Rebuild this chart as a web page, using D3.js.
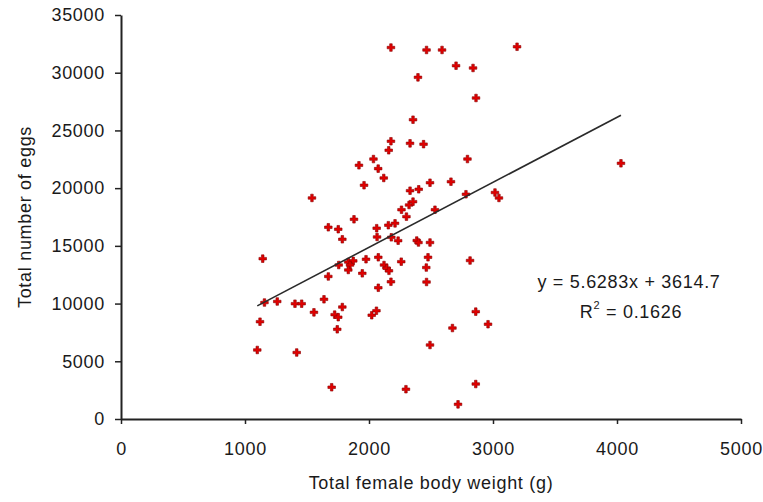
<!DOCTYPE html>
<html>
<head>
<meta charset="utf-8">
<script src="https://cdn.jsdelivr.net/npm/d3@7"></script>
<style>
  html, body { margin: 0; padding: 0; background: #fff; }
  svg text { font-family: Arial, "Liberation Sans", sans-serif; fill: #1a1a1a; }
</style>
</head>
<body>
<svg id="chart" width="763" height="502"></svg>
<script>
// ---- Data ----
const bodyWeight = [
  2177, 2464, 2589, 2702, 2839, 2395, 2863, 2355, 2177, 2159,
  2331, 2440, 2794, 1919, 2036, 2074, 2119, 1960, 1540, 2492,
  2661, 2331, 2401, 2782, 3016, 3048, 2262, 2323, 2355, 2302,
  2532, 1879, 1672, 1752, 1785, 2062, 2156, 2210, 2065, 2180,
  2235, 2385, 2399, 2492, 3194, 4032, 1143, 1756, 1833, 1873,
  1847, 1833, 1976, 2075, 2121, 2143, 2161, 2260, 2476, 2462,
  1946, 1672, 2177, 2464, 2075, 2815, 1157, 1260, 1403, 1457,
  1637, 1556, 1785, 1723, 1752, 1744, 1121, 2022, 2060, 1099,
  1417, 2861, 2673, 2960, 2492, 1699, 2298, 2861, 2718
];
const eggs = [
  32180, 31970, 31970, 30610, 30410, 29600, 27810, 25930, 24060, 23280,
  23880, 23810, 22520, 21980, 22520, 21690, 20880, 20250, 19150, 20470,
  20560, 19780, 19900, 19470, 19620, 19150, 18130, 18540, 18830, 17530,
  18130, 17300, 16610, 16440, 15570, 16530, 16790, 16950, 15770, 15740,
  15450, 15460, 15290, 15290, 32250, 22150, 13890, 13340, 13600, 13700,
  13340, 12910, 13840, 14010, 13340, 13060, 12840, 13630, 14010, 13120,
  12620, 12350, 11890, 11870, 11370, 13730, 10090, 10180, 9990, 9990,
  10370, 9240, 9700, 9040, 8820, 7770, 8430, 8990, 9380, 5980,
  5760, 9300, 7880, 8210, 6410, 2750, 2580, 3030, 1270
];
const xTicks = [0, 1000, 2000, 3000, 4000, 5000];
const yTicks = [0, 5000, 10000, 15000, 20000, 25000, 30000, 35000];
const slope = 5.6283;
const intercept = 3614.7;
const equationText = "y = 5.6283x + 3614.7";
const r2Value = "0.1626";
const xTitle = "Total female body weight (g)";
const yTitle = "Total number of eggs";

(function draw() {
  const svg = d3.select("#chart");
  const mLeft = 121, mRight = 741, mTop = 15, mBottom = 419;
  const x = d3.scaleLinear().domain([0, 5000]).range([mLeft, mRight]);
  const y = d3.scaleLinear().domain([0, 35000]).range([mBottom, mTop]);
  const fontSize = 18, ls = "0.7px";

  svg.append("rect").attr("width", 763).attr("height", 502).attr("fill", "#fff");

  const xAxis = svg.append("g")
    .attr("transform", `translate(0,${mBottom})`)
    .call(d3.axisBottom(x).tickValues(xTicks).tickFormat(d3.format("d")).tickSize(5).tickPadding(18).tickSizeOuter(0));
  const yAxis = svg.append("g")
    .attr("transform", `translate(${mLeft},0)`)
    .call(d3.axisLeft(y).tickValues(yTicks).tickFormat(d3.format("d")).tickSize(6).tickPadding(10).tickSizeOuter(0));

  [xAxis, yAxis].forEach(g => {
    g.select(".domain").attr("stroke", "#222").attr("stroke-width", 2);
    g.selectAll(".tick line").attr("stroke", "#222").attr("stroke-width", 1.5);
    g.selectAll(".tick text")
      .attr("font-size", fontSize)
      .attr("letter-spacing", ls)
      .attr("font-family", "Arial, 'Liberation Sans', sans-serif")
      .attr("fill", "#1a1a1a");
  });

  const pts = bodyWeight.map((w, i) => ({ w, e: eggs[i] }));
  const sym = d3.symbol().type(d3.symbolCross).size(32);
  svg.append("g").selectAll("path")
    .data(pts)
    .join("path")
    .attr("d", sym)
    .attr("transform", d => `translate(${x(d.w)},${y(d.e)})`)
    .attr("fill", "#e00000")
    .attr("stroke", "#8a0000")
    .attr("stroke-width", 0.6);

  const xMin = d3.min(bodyWeight), xMax = d3.max(bodyWeight);
  svg.append("line")
    .attr("x1", x(xMin)).attr("y1", y(slope * xMin + intercept))
    .attr("x2", x(xMax)).attr("y2", y(slope * xMax + intercept))
    .attr("stroke", "#2a2a2a")
    .attr("stroke-width", 1.6);

  svg.append("text")
    .attr("x", 629).attr("y", 288)
    .attr("text-anchor", "middle")
    .attr("font-size", fontSize).attr("letter-spacing", ls)
    .text(equationText);
  const r2 = svg.append("text")
    .attr("x", 631).attr("y", 318)
    .attr("text-anchor", "middle")
    .attr("font-size", fontSize).attr("letter-spacing", ls);
  r2.append("tspan").text("R");
  r2.append("tspan").attr("font-size", 11).attr("dy", -9).text("2");
  r2.append("tspan").attr("dy", 9).text(" = " + r2Value);

  svg.append("text")
    .attr("x", (mLeft + mRight) / 2).attr("y", 489)
    .attr("text-anchor", "middle")
    .attr("font-size", fontSize).attr("letter-spacing", ls)
    .text(xTitle);
  svg.append("text")
    .attr("transform", `translate(31,${(mTop + mBottom) / 2}) rotate(-90)`)
    .attr("text-anchor", "middle")
    .attr("font-size", fontSize).attr("letter-spacing", ls)
    .text(yTitle);
})();
</script>
</body>
</html>
